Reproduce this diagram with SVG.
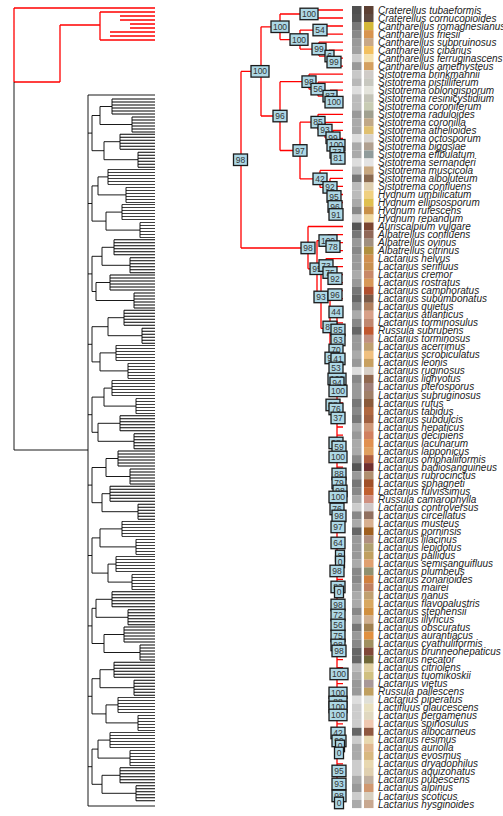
<svg xmlns="http://www.w3.org/2000/svg" xmlns:xlink="http://www.w3.org/1999/xlink" width="503" height="816" viewBox="0 0 503 816">
<style>
.r{fill:none;stroke:#f00;stroke-width:1.3}
.k{fill:none;stroke:#000;stroke-width:0.9}
.bx rect{fill:#add8e6;stroke:#1a1a1a;stroke-width:1.3}
.bx text{font-family:"Liberation Sans",Arial,sans-serif;font-size:8.5px;fill:#333;text-anchor:middle}
.tip{font-family:"Liberation Sans",Arial,sans-serif;font-size:10px;font-style:italic;fill:#222}
</style>
<defs>
<path id="cb" class="k" d="M0,0H1M0,3H1M0,6H1M0,9H1M0,12H1M0,15H1"/>
</defs>
<rect width="503" height="816" fill="#fff"/>
<g id="left-tree">
<path class="r" d="M14,8H155M14,8V82M14,82H60M60,25V82M60,25H100M100,12V40M100,12H155M100,40H155M120,16H155M120,20H155M130,24H155M130,28H155M110,32H155M110,36H155"/>
<path class="k" d="M14,82V450M14,450H88M88,95V806M88,95H155M88,806H155
M88,133.1H92M88,203.5H92M88,273.9H92M88,344.3H92M88,414.7H92M88,485.1H92M88,555.5H92M88,625.9H92M88,696.3H92M88,766.7H92
M92,115.5V150.7M92,115.5H100M92,150.7H104
M92,185.9V221.1M92,185.9H98M92,221.1H106
M92,256.3V291.5M92,256.3H102M92,291.5H96
M92,326.7V361.9M92,326.7H108M92,361.9H100
M92,397.1V432.3M92,397.1H104M92,432.3H98
M92,467.5V502.7M92,467.5H106M92,502.7H102
M92,537.9V573.1M92,537.9H100M92,573.1H108
M92,608.3V643.5M92,608.3H96M92,643.5H104
M92,678.7V713.9M92,678.7H100M92,713.9H106
M92,749.1V784.3M92,749.1H98M92,784.3H102
M100,106.5V124.5M100,106.5H112M100,124.5H132M112,99V114M132,117V132
M104,141.7V159.7M104,141.7H120M104,159.7H138M120,134.2V149.2M138,152.2V167.2
M98,176.9V194.9M98,176.9H108M98,194.9H126M108,169.4V184.4M126,187.4V202.4
M106,212.1V230.1M106,212.1H122M106,230.1H140M122,204.6V219.6M140,222.6V237.6
M102,247.3V265.3M102,247.3H114M102,265.3H130M114,239.8V254.8M130,257.8V272.8
M96,282.5V300.5M96,282.5H110M96,300.5H134M110,275V290M134,293V308
M108,317.7V335.7M108,317.7H124M108,335.7H142M124,310.2V325.2M142,328.2V343.2
M100,352.9V370.9M100,352.9H116M100,370.9H128M116,345.4V360.4M128,363.4V378.4
M104,388.1V406.1M104,388.1H112M104,406.1H136M112,380.6V395.6M136,398.6V413.6
M98,423.3V441.3M98,423.3H120M98,441.3H134M120,415.8V430.8M134,433.8V448.8
M106,458.5V476.5M106,458.5H118M106,476.5H130M118,451V466M130,469V484
M102,493.7V511.7M102,493.7H110M102,511.7H138M110,486.2V501.2M138,504.2V519.2
M100,528.9V546.9M100,528.9H122M100,546.9H136M122,521.4V536.4M136,539.4V554.4
M108,564.1V582.1M108,564.1H116M108,582.1H132M116,556.6V571.6M132,574.6V589.6
M96,599.3V617.3M96,599.3H112M96,617.3H128M112,591.8V606.8M128,609.8V624.8
M104,634.5V652.5M104,634.5H124M104,652.5H140M124,627V642M140,645V660
M100,669.7V687.7M100,669.7H114M100,687.7H134M114,662.2V677.2M134,680.2V695.2
M106,704.9V722.9M106,704.9H118M106,722.9H138M118,697.4V712.4M138,715.4V730.4
M98,740.1V758.1M98,740.1H110M98,758.1H130M110,732.6V747.6M130,750.6V765.6
M102,775.3V793.3M102,775.3H120M102,793.3H136M120,767.8V782.8M136,785.8V800.8"/>
<use href="#cb" transform="translate(112,99) scale(43,1)"/><use href="#cb" transform="translate(132,117) scale(23,1)"/>
<use href="#cb" transform="translate(120,134.2) scale(35,1)"/><use href="#cb" transform="translate(138,152.2) scale(17,1)"/>
<use href="#cb" transform="translate(108,169.4) scale(47,1)"/><use href="#cb" transform="translate(126,187.4) scale(29,1)"/>
<use href="#cb" transform="translate(122,204.6) scale(33,1)"/><use href="#cb" transform="translate(140,222.6) scale(15,1)"/>
<use href="#cb" transform="translate(114,239.8) scale(41,1)"/><use href="#cb" transform="translate(130,257.8) scale(25,1)"/>
<use href="#cb" transform="translate(110,275) scale(45,1)"/><use href="#cb" transform="translate(134,293) scale(21,1)"/>
<use href="#cb" transform="translate(124,310.2) scale(31,1)"/><use href="#cb" transform="translate(142,328.2) scale(13,1)"/>
<use href="#cb" transform="translate(116,345.4) scale(39,1)"/><use href="#cb" transform="translate(128,363.4) scale(27,1)"/>
<use href="#cb" transform="translate(112,380.6) scale(43,1)"/><use href="#cb" transform="translate(136,398.6) scale(19,1)"/>
<use href="#cb" transform="translate(120,415.8) scale(35,1)"/><use href="#cb" transform="translate(134,433.8) scale(21,1)"/>
<use href="#cb" transform="translate(118,451) scale(37,1)"/><use href="#cb" transform="translate(130,469) scale(25,1)"/>
<use href="#cb" transform="translate(110,486.2) scale(45,1)"/><use href="#cb" transform="translate(138,504.2) scale(17,1)"/>
<use href="#cb" transform="translate(122,521.4) scale(33,1)"/><use href="#cb" transform="translate(136,539.4) scale(19,1)"/>
<use href="#cb" transform="translate(116,556.6) scale(39,1)"/><use href="#cb" transform="translate(132,574.6) scale(23,1)"/>
<use href="#cb" transform="translate(112,591.8) scale(43,1)"/><use href="#cb" transform="translate(128,609.8) scale(27,1)"/>
<use href="#cb" transform="translate(124,627) scale(31,1)"/><use href="#cb" transform="translate(140,645) scale(15,1)"/>
<use href="#cb" transform="translate(114,662.2) scale(41,1)"/><use href="#cb" transform="translate(134,680.2) scale(21,1)"/>
<use href="#cb" transform="translate(118,697.4) scale(37,1)"/><use href="#cb" transform="translate(138,715.4) scale(17,1)"/>
<use href="#cb" transform="translate(110,732.6) scale(45,1)"/><use href="#cb" transform="translate(130,750.6) scale(25,1)"/>
<use href="#cb" transform="translate(120,767.8) scale(35,1)"/><use href="#cb" transform="translate(136,785.8) scale(19,1)"/>
</g>
<g id="connectors">
<path class="r" d="M241,71.4V248M241,71.4H261M241,248H308
M261,26.8V116M261,26.8H280M261,116H280
M280,14V39.6M280,14H309M280,39.6H300
M309,10V18M309,10H343M309,18H343
M300,30.05V49.1M300,30.05H319M300,49.1H319
M319,26V34.1M319,26H343M319,34.1H343
M319,42.1V56.1M319,42.1H343M319,56.1H329
M329,50.1V62.1M329,50.1H343M329,62.1H334
M334,58.1V66.1M334,58.1H343M334,66.1H343
M280,81.7V150.5M280,81.7H309M280,150.5H300
M309,74.2V89.2M309,74.2H343M309,89.2H318
M318,82.2V96.2M318,82.2H343M318,96.2H330
M330,90.2V102.2M330,90.2H343M330,102.2H334
M334,98.2V106.2M334,98.2H343M334,106.2H343
M300,122.2V178.9M300,122.2H318M300,178.9H320
M318,114.3V130.05M318,114.3H343M318,130.05H325
M325,122.3V137.8M325,122.3H343M325,137.8H333
M333,130.3V145.3M333,130.3H343M333,145.3H336
M336,138.3V152.35M336,138.3H343M336,152.35H337
M337,146.3V158.4M337,146.3H343M337,158.4H338
M338,154.4V162.4M338,154.4H343M338,162.4H343
M320,170.4V187.4M320,170.4H343M320,187.4H330
M330,178.4V196.5M330,178.4H343M330,196.5H334
M334,186.4V206.5M334,186.4H343M334,206.5H335
M335,198.5V214.5M335,198.5H338M335,214.5H336
M338,194.5V202.5M338,194.5H343M338,202.5H343
M336,210.5V218.5M336,210.5H343M336,218.5H343
M308,226.5V268.8M308,226.5H343M308,268.8H317
M317,240.6V297M317,240.6H328M317,297H321
M328,234.6V246.6M328,234.6H343M328,246.6H333
M333,242.6V250.6M333,242.6H343M333,250.6H343
M321,265.6V328.4M321,265.6H326M321,328.4H330
M326,258.6V272.6M326,258.6H343M326,272.6H330
M330,266.6V278.7M330,266.6H343M330,278.7H335
M335,274.7V282.7M335,274.7H343M335,282.7H343
M330,294.7V362M330,294.7H335M330,362H337
M335,290.7V298.7M335,290.7H343M335,298.7H343
M337,306.7V804"/>
<path class="r" d="M337,306.7H343M337,314.8H343M337,322.8H343M337,330.8H343M337,338.8H343M337,346.8H343M337,354.9H343M337,362.9H343M337,370.9H343M337,378.9H343M337,386.9H343M337,395H343M337,403H343M337,411H343M337,419H343M337,427H343M337,435.1H343M337,443.1H343M337,451.1H343M337,459.1H343M337,467.1H343M337,475.2H343M337,483.2H343M337,491.2H343M337,499.2H343M337,507.2H343M337,515.3H343M337,523.3H343M337,531.3H343M337,539.3H343M337,547.3H343M337,555.4H343M337,563.4H343M337,571.4H343M337,579.4H343M337,587.4H343M337,595.5H343M337,603.5H343M337,611.5H343M337,619.5H343M337,627.5H343M337,635.6H343M337,643.6H343M337,651.6H343M337,659.6H343M337,667.6H343M337,675.7H343M337,683.7H343M337,691.7H343M337,699.7H343M337,707.7H343M337,715.8H343M337,723.8H343M337,731.8H343M337,739.8H343M337,747.8H343M337,755.9H343M337,763.9H343M337,771.9H343M337,779.9H343M337,787.9H343M337,796H343M337,804H343"/>
</g>
<g id="support-boxes" class="bx">
<g id="n-root"><rect x="233.5" y="154" width="14" height="11.5"/><text x="240.5" y="162.8">98</text></g>
<g id="n-a"><rect x="251" y="65.6" width="18" height="11.5"/><text x="260" y="74.4">100</text></g>
<g id="n-b"><rect x="271" y="21" width="18" height="11.5"/><text x="280" y="29.8">100</text></g>
<g id="n-c"><rect x="300" y="8.2" width="18" height="11.5"/><text x="309" y="17">100</text></g>
<g id="n-d"><rect x="290" y="33.8" width="18" height="11.5"/><text x="299" y="42.6">100</text></g>
<g id="n-e"><rect x="313" y="24.3" width="14" height="11.5"/><text x="320" y="33.1">54</text></g>
<g id="n-f"><rect x="312" y="43.3" width="14" height="11.5"/><text x="319" y="52.1">99</text></g>
<g id="n-g"><rect x="325" y="50.3" width="9" height="11.5"/><text x="329.5" y="59.1">6</text></g>
<g id="n-h"><rect x="327" y="56.3" width="14" height="11.5"/><text x="334" y="65.1">99</text></g>
<g id="n-s"><rect x="273" y="110.3" width="14" height="11.5"/><text x="280" y="119.1">96</text></g>
<g id="n-i"><rect x="302" y="75.9" width="14" height="11.5"/><text x="309" y="84.7">98</text></g>
<g id="n-k"><rect x="311" y="83.4" width="14" height="11.5"/><text x="318" y="92.2">56</text></g>
<g id="n-l"><rect x="323" y="90.4" width="14" height="11.5"/><text x="330" y="99.2">87</text></g>
<g id="n-m"><rect x="325" y="96.4" width="18" height="11.5"/><text x="334" y="105.2">100</text></g>
<g id="n-j"><rect x="293" y="144.7" width="14" height="11.5"/><text x="300" y="153.5">97</text></g>
<g id="n-85"><rect x="311" y="116.4" width="14" height="11.5"/><text x="318" y="125.2">85</text></g>
<g id="n-93a"><rect x="318" y="124.3" width="14" height="11.5"/><text x="325" y="133.1">93</text></g>
<g id="n-99a"><rect x="326" y="132" width="14" height="11.5"/><text x="333" y="140.8">99</text></g>
<g id="n-100a"><rect x="327" y="139.5" width="18" height="11.5"/><text x="336" y="148.3">100</text></g>
<g id="n-73a"><rect x="330" y="146.6" width="14" height="11.5"/><text x="337" y="155.4">73</text></g>
<g id="n-81"><rect x="331" y="152.6" width="14" height="11.5"/><text x="338" y="161.4">81</text></g>
<g id="n-42"><rect x="313" y="173.1" width="14" height="11.5"/><text x="320" y="181.9">42</text></g>
<g id="n-92a"><rect x="323" y="181.6" width="14" height="11.5"/><text x="330" y="190.4">92</text></g>
<g id="n-95a"><rect x="327" y="190.7" width="14" height="11.5"/><text x="334" y="199.5">95</text></g>
<g id="n-96a"><rect x="328" y="200.7" width="14" height="11.5"/><text x="335" y="209.5">96</text></g>
<g id="n-91"><rect x="329" y="208.7" width="14" height="11.5"/><text x="336" y="217.5">91</text></g>
<g id="n-t"><rect x="301" y="242.2" width="14" height="11.5"/><text x="308" y="251">98</text></g>
<g id="n-u"><rect x="310" y="263" width="14" height="11.5"/><text x="317" y="271.8">95</text></g>
<g id="n-alb"><rect x="319" y="234.8" width="18" height="11.5"/><text x="328" y="243.6">100</text></g>
<g id="n-78"><rect x="326" y="240.8" width="14" height="11.5"/><text x="333" y="249.6">78</text></g>
<g id="n-l73"><rect x="319" y="259.8" width="14" height="11.5"/><text x="326" y="268.6">73</text></g>
<g id="n-l75"><rect x="323" y="266.8" width="14" height="11.5"/><text x="330" y="275.6">75</text></g>
<g id="n-l92"><rect x="328" y="272.9" width="14" height="11.5"/><text x="335" y="281.7">92</text></g>
<g id="n-lac"><rect x="314" y="291.2" width="14" height="11.5"/><text x="321" y="300">93</text></g>
<g id="n-l96"><rect x="328" y="288.9" width="14" height="11.5"/><text x="335" y="297.7">96</text></g>
<g id="n-l44"><rect x="329" y="306.2" width="14" height="11.5"/><text x="336" y="315">44</text></g>
<g id="n-l85a"><rect x="323" y="321.2" width="14" height="11.5"/><text x="330" y="330">87</text></g>
<g id="n-l85"><rect x="331" y="324.2" width="14" height="11.5"/><text x="338" y="333">85</text></g>
<g id="n-l63"><rect x="331" y="334.2" width="14" height="11.5"/><text x="338" y="343">63</text></g>
<g id="n-l70"><rect x="329" y="344.2" width="14" height="11.5"/><text x="336" y="353">70</text></g>
<g id="n-l94"><rect x="325" y="352.2" width="14" height="11.5"/><text x="332" y="361">94</text></g>
<g id="n-l41"><rect x="331" y="353.2" width="14" height="11.5"/><text x="338" y="362">41</text></g>
<g id="n-l53"><rect x="329" y="362.2" width="14" height="11.5"/><text x="336" y="371">53</text></g>
<g id="n-l100a"><rect x="328" y="373.2" width="18" height="11.5"/><text x="337" y="382">100</text></g>
<g id="n-l94b"><rect x="330" y="377.2" width="14" height="11.5"/><text x="337" y="386">94</text></g>
<g id="n-l100b"><rect x="329" y="385.2" width="18" height="11.5"/><text x="338" y="394">100</text></g>
<g id="n-l88"><rect x="326" y="399.2" width="14" height="11.5"/><text x="333" y="408">88</text></g>
<g id="n-l76"><rect x="329" y="403.2" width="14" height="11.5"/><text x="336" y="412">76</text></g>
<g id="n-l37"><rect x="331" y="412.2" width="14" height="11.5"/><text x="338" y="421">37</text></g>
<g id="n-l98a"><rect x="329" y="437.2" width="14" height="11.5"/><text x="336" y="446">98</text></g>
<g id="n-l59"><rect x="332" y="441.2" width="14" height="11.5"/><text x="339" y="450">59</text></g>
<g id="n-l98b"><rect x="329" y="451.2" width="18" height="11.5"/><text x="338" y="460">100</text></g>
<g id="n-l88b"><rect x="332" y="468.2" width="14" height="11.5"/><text x="339" y="477">88</text></g>
<g id="n-l79"><rect x="332" y="477.2" width="14" height="11.5"/><text x="339" y="486">79</text></g>
<g id="n-l98c"><rect x="333" y="485.2" width="14" height="11.5"/><text x="340" y="494">98</text></g>
<g id="n-l100c"><rect x="329" y="491.2" width="18" height="11.5"/><text x="338" y="500">100</text></g>
<g id="n-l76b"><rect x="330" y="503.2" width="14" height="11.5"/><text x="337" y="512">76</text></g>
<g id="n-l98d"><rect x="332" y="510.2" width="14" height="11.5"/><text x="339" y="519">98</text></g>
<g id="n-l97"><rect x="331" y="521.2" width="14" height="11.5"/><text x="338" y="530">97</text></g>
<g id="n-l64"><rect x="331" y="537.2" width="14" height="11.5"/><text x="338" y="546">64</text></g>
<g id="n-l8"><rect x="335.5" y="550.2" width="9" height="11.5"/><text x="340" y="559">8</text></g>
<g id="n-l0a"><rect x="335.5" y="556.2" width="9" height="11.5"/><text x="340" y="565">0</text></g>
<g id="n-l98e"><rect x="330" y="565.2" width="14" height="11.5"/><text x="337" y="574">98</text></g>
<g id="n-l83"><rect x="331" y="581.2" width="14" height="11.5"/><text x="338" y="590">83</text></g>
<g id="n-l0b"><rect x="334.5" y="586.2" width="9" height="11.5"/><text x="339" y="595">0</text></g>
<g id="n-l98f"><rect x="331" y="599.2" width="14" height="11.5"/><text x="338" y="608">98</text></g>
<g id="n-l72"><rect x="331" y="609.2" width="14" height="11.5"/><text x="338" y="618">72</text></g>
<g id="n-l56"><rect x="331" y="619.2" width="14" height="11.5"/><text x="338" y="628">56</text></g>
<g id="n-l75b"><rect x="331" y="630.2" width="14" height="11.5"/><text x="338" y="639">75</text></g>
<g id="n-l98g"><rect x="331" y="639.2" width="14" height="11.5"/><text x="338" y="648">98</text></g>
<g id="n-l98h"><rect x="332" y="645.2" width="14" height="11.5"/><text x="339" y="654">98</text></g>
<g id="n-l100d"><rect x="330" y="668.2" width="18" height="11.5"/><text x="339" y="677">100</text></g>
<g id="n-l100e"><rect x="329" y="687.2" width="18" height="11.5"/><text x="338" y="696">100</text></g>
<g id="n-l88c"><rect x="329" y="696.2" width="18" height="11.5"/><text x="338" y="705">88</text></g>
<g id="n-l100f"><rect x="329" y="701.2" width="18" height="11.5"/><text x="338" y="710">100</text></g>
<g id="n-l100g"><rect x="329" y="709.2" width="18" height="11.5"/><text x="338" y="718">100</text></g>
<g id="n-l42"><rect x="331" y="727.2" width="14" height="11.5"/><text x="338" y="736">42</text></g>
<g id="n-l99"><rect x="332" y="735.2" width="14" height="11.5"/><text x="339" y="744">99</text></g>
<g id="n-l0c"><rect x="335.5" y="740.2" width="9" height="11.5"/><text x="340" y="749">0</text></g>
<g id="n-l0d"><rect x="334.5" y="747.2" width="9" height="11.5"/><text x="339" y="756">0</text></g>
<g id="n-l95"><rect x="332" y="765.2" width="14" height="11.5"/><text x="339" y="774">95</text></g>
<g id="n-l93"><rect x="332" y="778.2" width="14" height="11.5"/><text x="339" y="787">93</text></g>
<g id="n-l98i"><rect x="332" y="790.2" width="14" height="11.5"/><text x="339" y="799">98</text></g>
<g id="n-l0e"><rect x="334.5" y="797.2" width="9" height="11.5"/><text x="339" y="806">0</text></g>
</g>
<g id="tip-colours">
<g id="col-grey">
<rect x="352" y="6.0" width="9.5" height="8.1" fill="#505050"/><rect x="352" y="14.0" width="9.5" height="8.1" fill="#555"/><rect x="352" y="22.0" width="9.5" height="8.1" fill="#787878"/><rect x="352" y="30.1" width="9.5" height="8.1" fill="#888"/><rect x="352" y="38.1" width="9.5" height="8.1" fill="#9a9a9a"/><rect x="352" y="46.1" width="9.5" height="8.1" fill="#a0a0a0"/><rect x="352" y="54.1" width="9.5" height="8.1" fill="#ccc"/><rect x="352" y="62.1" width="9.5" height="8.1" fill="#999"/><rect x="352" y="70.2" width="9.5" height="8.1" fill="#c8c8c8"/><rect x="352" y="78.2" width="9.5" height="8.1" fill="#b8b8b8"/>
<rect x="352" y="86.2" width="9.5" height="8.1" fill="#ddd"/><rect x="352" y="94.2" width="9.5" height="8.1" fill="#bbb"/><rect x="352" y="102.2" width="9.5" height="8.1" fill="#bbb"/><rect x="352" y="110.3" width="9.5" height="8.1" fill="#999"/><rect x="352" y="118.3" width="9.5" height="8.1" fill="#aaa"/><rect x="352" y="126.3" width="9.5" height="8.1" fill="#a8a8a8"/><rect x="352" y="134.3" width="9.5" height="8.1" fill="#ddd"/><rect x="352" y="142.3" width="9.5" height="8.1" fill="#aaa"/><rect x="352" y="150.4" width="9.5" height="8.1" fill="#aaa"/><rect x="352" y="158.4" width="9.5" height="8.1" fill="#ddd"/>
<rect x="352" y="166.4" width="9.5" height="8.1" fill="#bbb"/><rect x="352" y="174.4" width="9.5" height="8.1" fill="#777"/><rect x="352" y="182.4" width="9.5" height="8.1" fill="#bbb"/><rect x="352" y="190.5" width="9.5" height="8.1" fill="#bbb"/><rect x="352" y="198.5" width="9.5" height="8.1" fill="#aaa"/><rect x="352" y="206.5" width="9.5" height="8.1" fill="#888"/><rect x="352" y="214.5" width="9.5" height="8.1" fill="#ccc"/><rect x="352" y="222.5" width="9.5" height="8.1" fill="#555"/><rect x="352" y="230.6" width="9.5" height="8.1" fill="#777"/><rect x="352" y="238.6" width="9.5" height="8.1" fill="#999"/>
<rect x="352" y="246.6" width="9.5" height="8.1" fill="#888"/><rect x="352" y="254.6" width="9.5" height="8.1" fill="#999"/><rect x="352" y="262.6" width="9.5" height="8.1" fill="#999"/><rect x="352" y="270.7" width="9.5" height="8.1" fill="#aaa"/><rect x="352" y="278.7" width="9.5" height="8.1" fill="#999"/><rect x="352" y="286.7" width="9.5" height="8.1" fill="#777"/><rect x="352" y="294.7" width="9.5" height="8.1" fill="#666"/><rect x="352" y="302.7" width="9.5" height="8.1" fill="#888"/><rect x="352" y="310.8" width="9.5" height="8.1" fill="#aaa"/><rect x="352" y="318.8" width="9.5" height="8.1" fill="#888"/>
<rect x="352" y="326.8" width="9.5" height="8.1" fill="#666"/><rect x="352" y="334.8" width="9.5" height="8.1" fill="#999"/><rect x="352" y="342.8" width="9.5" height="8.1" fill="#999"/><rect x="352" y="350.9" width="9.5" height="8.1" fill="#aaa"/><rect x="352" y="358.9" width="9.5" height="8.1" fill="#999"/><rect x="352" y="366.9" width="9.5" height="8.1" fill="#ddd"/><rect x="352" y="374.9" width="9.5" height="8.1" fill="#888"/><rect x="352" y="382.9" width="9.5" height="8.1" fill="#999"/><rect x="352" y="391.0" width="9.5" height="8.1" fill="#999"/><rect x="352" y="399.0" width="9.5" height="8.1" fill="#777"/>
<rect x="352" y="407.0" width="9.5" height="8.1" fill="#888"/><rect x="352" y="415.0" width="9.5" height="8.1" fill="#777"/><rect x="352" y="423.0" width="9.5" height="8.1" fill="#aaa"/><rect x="352" y="431.1" width="9.5" height="8.1" fill="#999"/><rect x="352" y="439.1" width="9.5" height="8.1" fill="#aaa"/><rect x="352" y="447.1" width="9.5" height="8.1" fill="#aaa"/><rect x="352" y="455.1" width="9.5" height="8.1" fill="#888"/><rect x="352" y="463.1" width="9.5" height="8.1" fill="#555"/><rect x="352" y="471.2" width="9.5" height="8.1" fill="#999"/><rect x="352" y="479.2" width="9.5" height="8.1" fill="#777"/>
<rect x="352" y="487.2" width="9.5" height="8.1" fill="#888"/><rect x="352" y="495.2" width="9.5" height="8.1" fill="#aaa"/><rect x="352" y="503.2" width="9.5" height="8.1" fill="#ccc"/><rect x="352" y="511.3" width="9.5" height="8.1" fill="#888"/><rect x="352" y="519.3" width="9.5" height="8.1" fill="#aaa"/><rect x="352" y="527.3" width="9.5" height="8.1" fill="#666"/><rect x="352" y="535.3" width="9.5" height="8.1" fill="#999"/><rect x="352" y="543.3" width="9.5" height="8.1" fill="#999"/><rect x="352" y="551.4" width="9.5" height="8.1" fill="#999"/><rect x="352" y="559.4" width="9.5" height="8.1" fill="#aaa"/>
<rect x="352" y="567.4" width="9.5" height="8.1" fill="#888"/><rect x="352" y="575.4" width="9.5" height="8.1" fill="#888"/><rect x="352" y="583.4" width="9.5" height="8.1" fill="#999"/><rect x="352" y="591.5" width="9.5" height="8.1" fill="#aaa"/><rect x="352" y="599.5" width="9.5" height="8.1" fill="#aaa"/><rect x="352" y="607.5" width="9.5" height="8.1" fill="#888"/><rect x="352" y="615.5" width="9.5" height="8.1" fill="#aaa"/><rect x="352" y="623.5" width="9.5" height="8.1" fill="#777"/><rect x="352" y="631.6" width="9.5" height="8.1" fill="#999"/><rect x="352" y="639.6" width="9.5" height="8.1" fill="#888"/>
<rect x="352" y="647.6" width="9.5" height="8.1" fill="#666"/><rect x="352" y="655.6" width="9.5" height="8.1" fill="#666"/><rect x="352" y="663.6" width="9.5" height="8.1" fill="#bbb"/><rect x="352" y="671.7" width="9.5" height="8.1" fill="#aaa"/><rect x="352" y="679.7" width="9.5" height="8.1" fill="#999"/><rect x="352" y="687.7" width="9.5" height="8.1" fill="#999"/><rect x="352" y="695.7" width="9.5" height="8.1" fill="#ddd"/><rect x="352" y="703.7" width="9.5" height="8.1" fill="#ccc"/><rect x="352" y="711.8" width="9.5" height="8.1" fill="#ccc"/><rect x="352" y="719.8" width="9.5" height="8.1" fill="#ccc"/>
<rect x="352" y="727.8" width="9.5" height="8.1" fill="#666"/><rect x="352" y="735.8" width="9.5" height="8.1" fill="#ccc"/><rect x="352" y="743.8" width="9.5" height="8.1" fill="#aaa"/><rect x="352" y="751.9" width="9.5" height="8.1" fill="#aaa"/><rect x="352" y="759.9" width="9.5" height="8.1" fill="#ccc"/><rect x="352" y="767.9" width="9.5" height="8.1" fill="#ccc"/><rect x="352" y="775.9" width="9.5" height="8.1" fill="#aaa"/><rect x="352" y="783.9" width="9.5" height="8.1" fill="#999"/><rect x="352" y="792.0" width="9.5" height="8.1" fill="#ccc"/><rect x="352" y="800.0" width="9.5" height="8.1" fill="#aaa"/>
</g>
<g id="col-colour">
<rect x="364" y="6.0" width="9.5" height="8.1" fill="#5c4033"/><rect x="364" y="14.0" width="9.5" height="8.1" fill="#5e4a40"/><rect x="364" y="22.0" width="9.5" height="8.1" fill="#d4b838"/><rect x="364" y="30.1" width="9.5" height="8.1" fill="#d89450"/><rect x="364" y="38.1" width="9.5" height="8.1" fill="#c8a888"/><rect x="364" y="46.1" width="9.5" height="8.1" fill="#f2c060"/><rect x="364" y="54.1" width="9.5" height="8.1" fill="#f5e2b0"/><rect x="364" y="62.1" width="9.5" height="8.1" fill="#d4a060"/><rect x="364" y="70.2" width="9.5" height="8.1" fill="#d0ccc8"/><rect x="364" y="78.2" width="9.5" height="8.1" fill="#c8c8c0"/>
<rect x="364" y="86.2" width="9.5" height="8.1" fill="#e4e4dc"/><rect x="364" y="94.2" width="9.5" height="8.1" fill="#c4c4b8"/><rect x="364" y="102.2" width="9.5" height="8.1" fill="#c8ccb4"/><rect x="364" y="110.3" width="9.5" height="8.1" fill="#a0a090"/><rect x="364" y="118.3" width="9.5" height="8.1" fill="#c0a888"/><rect x="364" y="126.3" width="9.5" height="8.1" fill="#e0c070"/><rect x="364" y="134.3" width="9.5" height="8.1" fill="#d8d4d0"/><rect x="364" y="142.3" width="9.5" height="8.1" fill="#b0a090"/><rect x="364" y="150.4" width="9.5" height="8.1" fill="#909c9c"/><rect x="364" y="158.4" width="9.5" height="8.1" fill="#e4e4e4"/>
<rect x="364" y="166.4" width="9.5" height="8.1" fill="#c8a880"/><rect x="364" y="174.4" width="9.5" height="8.1" fill="#8a6a50"/><rect x="364" y="182.4" width="9.5" height="8.1" fill="#e0d0b0"/><rect x="364" y="190.5" width="9.5" height="8.1" fill="#f0d080"/><rect x="364" y="198.5" width="9.5" height="8.1" fill="#e0c050"/><rect x="364" y="206.5" width="9.5" height="8.1" fill="#c89048"/><rect x="364" y="214.5" width="9.5" height="8.1" fill="#f0d8a0"/><rect x="364" y="222.5" width="9.5" height="8.1" fill="#7a4530"/><rect x="364" y="230.6" width="9.5" height="8.1" fill="#906858"/><rect x="364" y="238.6" width="9.5" height="8.1" fill="#a09080"/>
<rect x="364" y="246.6" width="9.5" height="8.1" fill="#b09040"/><rect x="364" y="254.6" width="9.5" height="8.1" fill="#d09050"/><rect x="364" y="262.6" width="9.5" height="8.1" fill="#c89050"/><rect x="364" y="270.7" width="9.5" height="8.1" fill="#c88868"/><rect x="364" y="278.7" width="9.5" height="8.1" fill="#d89858"/><rect x="364" y="286.7" width="9.5" height="8.1" fill="#b05030"/><rect x="364" y="294.7" width="9.5" height="8.1" fill="#7a5a48"/><rect x="364" y="302.7" width="9.5" height="8.1" fill="#b08060"/><rect x="364" y="310.8" width="9.5" height="8.1" fill="#d8a088"/><rect x="364" y="318.8" width="9.5" height="8.1" fill="#c08870"/>
<rect x="364" y="326.8" width="9.5" height="8.1" fill="#c05830"/><rect x="364" y="334.8" width="9.5" height="8.1" fill="#c09080"/><rect x="364" y="342.8" width="9.5" height="8.1" fill="#c0a070"/><rect x="364" y="350.9" width="9.5" height="8.1" fill="#f0c080"/><rect x="364" y="358.9" width="9.5" height="8.1" fill="#c8a060"/><rect x="364" y="366.9" width="9.5" height="8.1" fill="#d8d0c8"/><rect x="364" y="374.9" width="9.5" height="8.1" fill="#906850"/><rect x="364" y="382.9" width="9.5" height="8.1" fill="#a08078"/><rect x="364" y="391.0" width="9.5" height="8.1" fill="#a08068"/><rect x="364" y="399.0" width="9.5" height="8.1" fill="#8a5a3a"/>
<rect x="364" y="407.0" width="9.5" height="8.1" fill="#b06840"/><rect x="364" y="415.0" width="9.5" height="8.1" fill="#a06040"/><rect x="364" y="423.0" width="9.5" height="8.1" fill="#d09878"/><rect x="364" y="431.1" width="9.5" height="8.1" fill="#d08060"/><rect x="364" y="439.1" width="9.5" height="8.1" fill="#e09050"/><rect x="364" y="447.1" width="9.5" height="8.1" fill="#e0a060"/><rect x="364" y="455.1" width="9.5" height="8.1" fill="#b06040"/><rect x="364" y="463.1" width="9.5" height="8.1" fill="#703030"/><rect x="364" y="471.2" width="9.5" height="8.1" fill="#b09070"/><rect x="364" y="479.2" width="9.5" height="8.1" fill="#a05028"/>
<rect x="364" y="487.2" width="9.5" height="8.1" fill="#c06030"/><rect x="364" y="495.2" width="9.5" height="8.1" fill="#d09080"/><rect x="364" y="503.2" width="9.5" height="8.1" fill="#d0c8c8"/><rect x="364" y="511.3" width="9.5" height="8.1" fill="#907060"/><rect x="364" y="519.3" width="9.5" height="8.1" fill="#d8b090"/><rect x="364" y="527.3" width="9.5" height="8.1" fill="#a06020"/><rect x="364" y="535.3" width="9.5" height="8.1" fill="#b09080"/><rect x="364" y="543.3" width="9.5" height="8.1" fill="#b0a070"/><rect x="364" y="551.4" width="9.5" height="8.1" fill="#c0a060"/><rect x="364" y="559.4" width="9.5" height="8.1" fill="#e0a070"/>
<rect x="364" y="567.4" width="9.5" height="8.1" fill="#909070"/><rect x="364" y="575.4" width="9.5" height="8.1" fill="#d08040"/><rect x="364" y="583.4" width="9.5" height="8.1" fill="#c08060"/><rect x="364" y="591.5" width="9.5" height="8.1" fill="#c0a070"/><rect x="364" y="599.5" width="9.5" height="8.1" fill="#d8a860"/><rect x="364" y="607.5" width="9.5" height="8.1" fill="#d09040"/><rect x="364" y="615.5" width="9.5" height="8.1" fill="#d0b090"/><rect x="364" y="623.5" width="9.5" height="8.1" fill="#a08050"/><rect x="364" y="631.6" width="9.5" height="8.1" fill="#e09040"/><rect x="364" y="639.6" width="9.5" height="8.1" fill="#a09060"/>
<rect x="364" y="647.6" width="9.5" height="8.1" fill="#804838"/><rect x="364" y="655.6" width="9.5" height="8.1" fill="#706838"/><rect x="364" y="663.6" width="9.5" height="8.1" fill="#e0d0a0"/><rect x="364" y="671.7" width="9.5" height="8.1" fill="#d0c080"/><rect x="364" y="679.7" width="9.5" height="8.1" fill="#a89898"/><rect x="364" y="687.7" width="9.5" height="8.1" fill="#c0a060"/><rect x="364" y="695.7" width="9.5" height="8.1" fill="#e0e0d8"/><rect x="364" y="703.7" width="9.5" height="8.1" fill="#e8e0c0"/><rect x="364" y="711.8" width="9.5" height="8.1" fill="#e0d8c0"/><rect x="364" y="719.8" width="9.5" height="8.1" fill="#f0c8b0"/>
<rect x="364" y="727.8" width="9.5" height="8.1" fill="#905840"/><rect x="364" y="735.8" width="9.5" height="8.1" fill="#e8d8b0"/><rect x="364" y="743.8" width="9.5" height="8.1" fill="#e0b890"/><rect x="364" y="751.9" width="9.5" height="8.1" fill="#d8b880"/><rect x="364" y="759.9" width="9.5" height="8.1" fill="#e8d8b0"/><rect x="364" y="767.9" width="9.5" height="8.1" fill="#e0d0b0"/><rect x="364" y="775.9" width="9.5" height="8.1" fill="#c0b0a0"/><rect x="364" y="783.9" width="9.5" height="8.1" fill="#d09870"/><rect x="364" y="792.0" width="9.5" height="8.1" fill="#d8d0c0"/><rect x="364" y="800.0" width="9.5" height="8.1" fill="#c8a890"/>
</g>
</g>
<g id="tip-labels" class="tip">
<text x="378" y="13.5">Craterellus tubaeformis</text>
<text x="378" y="21.5">Craterellus cornucopioides</text>
<text x="378" y="29.5">Cantharellus romagnesianus</text>
<text x="378" y="37.6">Cantharellus friesii</text>
<text x="378" y="45.6">Cantharellus subpruinosus</text>
<text x="378" y="53.6">Cantharellus cibarius</text>
<text x="378" y="61.6">Cantharellus ferruginascens</text>
<text x="378" y="69.6">Cantharellus amethysteus</text>
<text x="378" y="77.7">Sistotrema brinkmannii</text>
<text x="378" y="85.7">Sistotrema pistilliferum</text>
<text x="378" y="93.7">Sistotrema oblongisporum</text>
<text x="378" y="101.7">Sistotrema resinicystidium</text>
<text x="378" y="109.7">Sistotrema coroniferum</text>
<text x="378" y="117.8">Sistotrema raduloides</text>
<text x="378" y="125.8">Sistotrema coronilla</text>
<text x="378" y="133.8">Sistotrema athelioides</text>
<text x="378" y="141.8">Sistotrema octosporum</text>
<text x="378" y="149.8">Sistotrema biggsiae</text>
<text x="378" y="157.9">Sistotrema efibulatum</text>
<text x="378" y="165.9">Sistotrema sernanderi</text>
<text x="378" y="173.9">Sistotrema muscicola</text>
<text x="378" y="181.9">Sistotrema alboluteum</text>
<text x="378" y="189.9">Sistotrema confluens</text>
<text x="378" y="198.0">Hydnum umbilicatum</text>
<text x="378" y="206.0">Hydnum ellipsosporum</text>
<text x="378" y="214.0">Hydnum rufescens</text>
<text x="378" y="222.0">Hydnum repandum</text>
<text x="378" y="230.0">Auriscalpium vulgare</text>
<text x="378" y="238.1">Albatrellus confluens</text>
<text x="378" y="246.1">Albatrellus ovinus</text>
<text x="378" y="254.1">Albatrellus citrinus</text>
<text x="378" y="262.1">Lactarius helvus</text>
<text x="378" y="270.1">Lactarius serifluus</text>
<text x="378" y="278.2">Lactarius cremor</text>
<text x="378" y="286.2">Lactarius rostratus</text>
<text x="378" y="294.2">Lactarius camphoratus</text>
<text x="378" y="302.2">Lactarius subumbonatus</text>
<text x="378" y="310.2">Lactarius quietus</text>
<text x="378" y="318.3">Lactarius atlanticus</text>
<text x="378" y="326.3">Lactarius torminosulus</text>
<text x="378" y="334.3">Russula subrubens</text>
<text x="378" y="342.3">Lactarius torminosus</text>
<text x="378" y="350.3">Lactarius acerrimus</text>
<text x="378" y="358.4">Lactarius scrobiculatus</text>
<text x="378" y="366.4">Lactarius leonis</text>
<text x="378" y="374.4">Lactarius ruginosus</text>
<text x="378" y="382.4">Lactarius lignyotus</text>
<text x="378" y="390.4">Lactarius pterosporus</text>
<text x="378" y="398.5">Lactarius subruginosus</text>
<text x="378" y="406.5">Lactarius rufus</text>
<text x="378" y="414.5">Lactarius tabidus</text>
<text x="378" y="422.5">Lactarius subdulcis</text>
<text x="378" y="430.5">Lactarius hepaticus</text>
<text x="378" y="438.6">Lactarius decipiens</text>
<text x="378" y="446.6">Lactarius lacunarum</text>
<text x="378" y="454.6">Lactarius lapponicus</text>
<text x="378" y="462.6">Lactarius omphaliiformis</text>
<text x="378" y="470.6">Lactarius badiosanguineus</text>
<text x="378" y="478.7">Lactarius rubrocinctus</text>
<text x="378" y="486.7">Lactarius sphagneti</text>
<text x="378" y="494.7">Lactarius fulvissimus</text>
<text x="378" y="502.7">Russula camarophylla</text>
<text x="378" y="510.7">Lactarius controversus</text>
<text x="378" y="518.8">Lactarius circellatus</text>
<text x="378" y="526.8">Lactarius musteus</text>
<text x="378" y="534.8">Lactarius porninsis</text>
<text x="378" y="542.8">Lactarius lilacinus</text>
<text x="378" y="550.8">Lactarius lepidotus</text>
<text x="378" y="558.9">Lactarius pallidus</text>
<text x="378" y="566.9">Lactarius semisanguifluus</text>
<text x="378" y="574.9">Lactarius plumbeus</text>
<text x="378" y="582.9">Lactarius zonarioides</text>
<text x="378" y="590.9">Lactarius mairei</text>
<text x="378" y="599.0">Lactarius nanus</text>
<text x="378" y="607.0">Lactarius flavopalustris</text>
<text x="378" y="615.0">Lactarius stephensii</text>
<text x="378" y="623.0">Lactarius illyricus</text>
<text x="378" y="631.0">Lactarius obscuratus</text>
<text x="378" y="639.1">Lactarius aurantiacus</text>
<text x="378" y="647.1">Lactarius cyathuliformis</text>
<text x="378" y="655.1">Lactarius brunneohepaticus</text>
<text x="378" y="663.1">Lactarius necator</text>
<text x="378" y="671.1">Lactarius citriolens</text>
<text x="378" y="679.2">Lactarius tuomikoskii</text>
<text x="378" y="687.2">Lactarius vietus</text>
<text x="378" y="695.2">Russula pallescens</text>
<text x="378" y="703.2">Lactarius piperatus</text>
<text x="378" y="711.2">Lactifluus glaucescens</text>
<text x="378" y="719.3">Lactarius pergamenus</text>
<text x="378" y="727.3">Lactarius spinosulus</text>
<text x="378" y="735.3">Lactarius albocarneus</text>
<text x="378" y="743.3">Lactarius resimus</text>
<text x="378" y="751.3">Lactarius auriolla</text>
<text x="378" y="759.4">Lactarius evosmus</text>
<text x="378" y="767.4">Lactarius dryadophilus</text>
<text x="378" y="775.4">Lactarius aquizonatus</text>
<text x="378" y="783.4">Lactarius pubescens</text>
<text x="378" y="791.4">Lactarius alpinus</text>
<text x="378" y="799.5">Lactarius scoticus</text>
<text x="378" y="807.5">Lactarius hysginoides</text>
</g>
</svg>
